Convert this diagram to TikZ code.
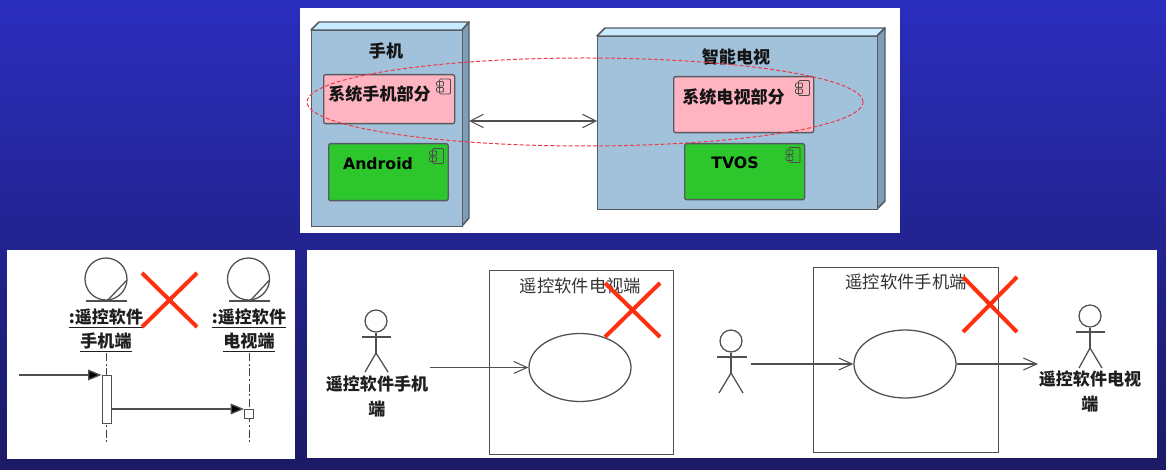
\documentclass[tikz,border=0pt]{standalone}
\usepackage{fontspec}
\setmainfont{Noto Sans CJK SC}
\newfontfamily\latinbold{DejaVu Sans Bold}
\usetikzlibrary{arrows.meta,shapes.geometric}
\def\px{0.75pt}
\definecolor{nodeblue}{HTML}{A2C2DC}
\definecolor{nodetop}{HTML}{C8EBFF}
\definecolor{nodeside}{HTML}{7F9DB6}
\definecolor{edge}{HTML}{555B60}
\definecolor{pinkbox}{HTML}{FFB4C1}
\definecolor{greenbox}{HTML}{2DC62D}
\definecolor{crossred}{HTML}{FF3010}
\definecolor{umlgrey}{HTML}{505050}
\definecolor{bgtop}{RGB}{43,45,190}
\definecolor{bgbottom}{RGB}{26,26,100}
\definecolor{hilitered}{HTML}{F03A4A}
\tikzset{
  x=0.75pt,y=-0.75pt,
  panel/.style={fill=white,draw=none},
  deployfront/.style={draw=edge,line width=1.1pt,fill=nodeblue,inner sep=0pt,anchor=north west},
  deploytop/.style={draw=edge,line width=1.1pt,fill=nodetop,line join=round},
  deployside/.style={draw=edge,line width=1.1pt,fill=nodeside,line join=round},
  compbox/.style={draw=edge,line width=1pt,rounded corners=1.5pt,inner sep=0pt,anchor=north west},
  bigtxt/.style={font=\bfseries\fontsize{12.8}{16}\selectfont,text=black!92,inner sep=0pt},
  latintxt/.style={font=\latinbold\fontsize{11.8}{14}\selectfont,text=black,inner sep=0pt},
  umllabel/.style={font=\bfseries\fontsize{12.8}{18.2}\selectfont,text=black!88,align=center,inner sep=0pt},
  title/.style={font=\fontsize{13}{16}\selectfont,text=black!80,inner sep=0pt},
  cross/.style={draw=crossred,line width=3pt},
  uml/.style={draw=umlgrey,line width=0.95pt},
  lifeline/.style={draw=black!75,line width=0.7pt,dash pattern=on 6pt off 2pt on 1.5pt off 2pt},
  openarrow/.style={uml,-{Straight Barb[length=10pt,width=9pt,line width=0.8pt]}},
  filledarrow/.style={uml,-{Triangle[length=10pt,width=8pt,fill=black]}},
  sysbox/.style={draw=umlgrey,line width=1pt,fill=white,inner sep=0pt,anchor=north west},
  usecase/.style={draw=umlgrey,line width=0.95pt,fill=white,ellipse,inner sep=0pt,minimum width=102*\px,minimum height=68*\px},
  head/.style={draw=umlgrey,line width=0.95pt,circle,inner sep=0pt,minimum size=22*\px},
  compicon/.pic={
    \draw[draw=black!70,line width=0.6pt,rounded corners=0.8pt] (-4,-7.5) rectangle (7,7.5);
    \draw[draw=black!70,line width=0.6pt,rounded corners=0.8pt] (-7,-5) rectangle (0,-0.5);
    \draw[draw=black!70,line width=0.6pt,rounded corners=0.8pt] (-7,1) rectangle (0,5.5);
  },
}
\begin{document}
\begin{tikzpicture}
\useasboundingbox (0,0) rectangle (1166,470);
\shade[top color=bgtop,bottom color=bgbottom] (0,0) rectangle (1166,470);

% panels
\fill[panel] (300,8) rectangle (900,233);
\fill[panel] (7,250) rectangle (295,459);
\fill[panel] (307,250) rectangle (1157,458);

% phone node
\draw[deploytop] (311,30) -- (319,22) -- (469,22) -- (462,30) -- cycle;
\draw[deployside] (462,30) -- (469,22) -- (469,218) -- (462,226) -- cycle;
\node[deployfront,minimum width=151*\px,minimum height=196*\px] (phone) at (311,30) {};
\node[bigtxt] (phonetitle) at (386,51) {手机};

% tv node
\draw[deploytop] (597,36) -- (605,28) -- (885,28) -- (877,36) -- cycle;
\draw[deployside] (877,36) -- (885,28) -- (885,201) -- (877,209) -- cycle;
\node[deployfront,minimum width=280*\px,minimum height=173*\px] (tv) at (597,36) {};
\node[bigtxt] (tvtitle) at (736,57) {智能电视};

% components
\node[compbox,fill=pinkbox,minimum width=131*\px,minimum height=49*\px] (pinkl) at (323,74) {};
\node[bigtxt] (pinkltxt) at (379.5,94) {系统手机部分};
\pic at (443.5,86.5) {compicon};
\node[compbox,fill=greenbox,minimum width=119.5*\px,minimum height=57*\px] (greenl) at (328,143) {};
\node[latintxt] (greenltxt) at (378,164) {Android};
\pic at (436.5,156) {compicon};
\node[compbox,fill=pinkbox,minimum width=140*\px,minimum height=56*\px] (pinkr) at (673,76) {};
\node[bigtxt] (pinkrtxt) at (733.5,97) {系统电视部分};
\pic at (802.5,88) {compicon};
\node[compbox,fill=greenbox,minimum width=120*\px,minimum height=56*\px] (greenr) at (684,143) {};
\node[latintxt] (greenrtxt) at (735,163) {TVOS};
\pic at (793,155) {compicon};

% connection
\coordinate (phoneport) at (469,121);
\coordinate (tvport) at (597,121);
\draw[uml,{Straight Barb[length=10pt,width=10pt,line width=0.8pt]}-{Straight Barb[length=10pt,width=10pt,line width=0.8pt]}] (phoneport) -- (tvport);

% dashed ellipse
\node[draw=hilitered,line width=0.75pt,dash pattern=on 3pt off 1.6pt,ellipse,inner sep=0pt,minimum width=556*\px,minimum height=88*\px] (hilite) at (585,102) {};

% sequence diagram
\node[head,minimum size=42*\px] (objA) at (106,279) {};
\coordinate (objAbl) at (86,301);
\coordinate (objAbr) at (127,301);
\coordinate (objAd1) at (107,301);
\coordinate (objAd2) at (127,280);
\draw[uml] (objAbl) -- (objAbr);
\draw[uml] (objAd1) -- (objAd2);
\node[head,minimum size=42*\px] (objB) at (248.5,279) {};
\coordinate (objBbl) at (229,301);
\coordinate (objBbr) at (270,301);
\coordinate (objBd1) at (250,301);
\coordinate (objBd2) at (269.5,280);
\draw[uml] (objBbl) -- (objBbr);
\draw[uml] (objBd1) -- (objBd2);
\node[umllabel] (objAl) at (106,330.5) {\underline{:遥控软件}\\\underline{手机端}};
\node[umllabel] (objBl) at (249,330.5) {\underline{:遥控软件}\\\underline{电视端}};
\coordinate (lifeAt) at (106.5,353);
\coordinate (lifeAb) at (106.5,443);
\coordinate (lifeBt) at (249,353);
\coordinate (lifeBb) at (249,443);
\draw[lifeline] (lifeAt) -- (lifeAb);
\draw[lifeline] (lifeBt) -- (lifeBb);
\node[sysbox,line width=0.9pt,minimum width=9*\px,minimum height=48*\px] (actA) at (101.5,375) {};
\node[sysbox,line width=0.9pt,minimum width=9*\px,minimum height=9*\px] (actB) at (244,409) {};
\coordinate (msgstart) at (19,375);
\draw[filledarrow] (msgstart) -- (actA.north west);
\draw[filledarrow] (actA.east |- actB.north west) -- (actB.north west);
\coordinate (xa1) at (142,273); \coordinate (xa2) at (197,327);
\coordinate (xa3) at (197,273); \coordinate (xa4) at (142,327);
\draw[cross] (xa1) -- (xa2);
\draw[cross] (xa3) -- (xa4);

% use case 1
\node[sysbox,minimum width=184.5*\px,minimum height=184*\px] (sys1) at (488.5,270) {};
\node[title] (sys1t) at (580.5,286) {遥控软件电视端};
\node[usecase] (uc1) at (580,367.5) {};
\node[head] (a1h) at (376,321) {};
\coordinate (a1n) at (376,353);
\coordinate (a1al) at (362,337); \coordinate (a1ar) at (391,337);
\coordinate (a1ll) at (365,372); \coordinate (a1lr) at (388,372);
\draw[uml] (a1h.south) -- (a1n);
\draw[uml] (a1al) -- (a1ar);
\draw[uml] (a1ll) -- (a1n) -- (a1lr);
\node[umllabel] (a1t) at (377,396.5) {遥控软件手机\\端};
\coordinate (a1out) at (430,367.5);
\draw[openarrow] (a1out) -- (uc1.west);
\coordinate (xb1) at (605,283); \coordinate (xb2) at (660,337);
\coordinate (xb3) at (660,283); \coordinate (xb4) at (605,337);
\draw[cross] (xb1) -- (xb2);
\draw[cross] (xb3) -- (xb4);

% actor 2
\node[head] (a2h) at (731,341) {};
\coordinate (a2n) at (731,373);
\coordinate (a2al) at (717,357); \coordinate (a2ar) at (747,357);
\coordinate (a2ll) at (719,393); \coordinate (a2lr) at (743,393);
\draw[uml] (a2h.south) -- (a2n);
\draw[uml] (a2al) -- (a2ar);
\draw[uml] (a2ll) -- (a2n) -- (a2lr);

% use case 2
\node[sysbox,minimum width=185*\px,minimum height=185*\px] (sys2) at (813,267) {};
\node[title] (sys2t) at (906,282) {遥控软件手机端};
\node[usecase] (uc2) at (905,364) {};
\coordinate (a2out) at (751,364);
\draw[openarrow] (a2out) -- (uc2.west);
\coordinate (a3in) at (1038,364);
\draw[openarrow] (uc2.east) -- (a3in);
\coordinate (xc1) at (963,277); \coordinate (xc2) at (1017,332);
\coordinate (xc3) at (1017,277); \coordinate (xc4) at (963,332);
\draw[cross] (xc1) -- (xc2);
\draw[cross] (xc3) -- (xc4);

% actor 3
\node[head] (a3h) at (1090,316) {};
\coordinate (a3n) at (1090,348);
\coordinate (a3al) at (1076,332); \coordinate (a3ar) at (1105,332);
\coordinate (a3ll) at (1079,368); \coordinate (a3lr) at (1102,368);
\draw[uml] (a3h.south) -- (a3n);
\draw[uml] (a3al) -- (a3ar);
\draw[uml] (a3ll) -- (a3n) -- (a3lr);
\node[umllabel] (a3t) at (1090,391.5) {遥控软件电视\\端};
\end{tikzpicture}
\end{document}
